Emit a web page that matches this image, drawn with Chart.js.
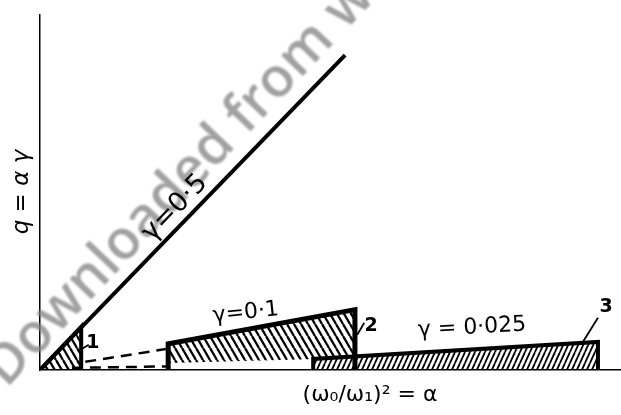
<!DOCTYPE html>
<html>
<head>
<meta charset="utf-8">
<script src="https://cdn.jsdelivr.net/npm/chart.js@4.4.1/dist/chart.umd.min.js"></script>
<style>
    html, body { margin: 0; padding: 0; background: #fff; }
    canvas { display: block; }
</style>
</head>
<body>
<canvas id="regimeChart" width="621" height="415"></canvas>
<script>
// alpha = (w0/w1)^2 on x, q = alpha * gamma on y (arbitrary units 0..10)
const line05Alpha = [0, 5.26];
const line05Q = [0, 8.87];

const region1Alpha = [0, 0.71, 0.71];
const region1Q = [0, 1.22, 0];

const dashUpperAlpha = [0.78, 2.17];
const dashUpperQ = [0.23, 0.59];
const dashLowerAlpha = [0.55, 2.17];
const dashLowerQ = [0.06, 0.10];

const region2TopAlpha = [2.21, 5.43];
const region2TopQ = [0.74, 1.70];
const region2BottomAlpha = [2.21, 5.43];
const region2BottomQ = [0.20, 0.34];
const region2EdgeAlpha = [2.21, 2.21, 5.43, 5.43];
const region2EdgeQ = [0, 0.74, 1.70, 0];

const region3TopAlpha = [4.71, 9.62];
const region3TopQ = [0.31, 0.79];
const region3EdgeAlpha = [4.71, 4.71, 9.62, 9.62];
const region3EdgeQ = [0, 0.31, 0.79, 0];

const leaderAlpha = [[0.72, 0.84], [5.47, 5.59], [9.36, 9.62]];
const leaderQ = [[0.59, 0.71], [0.99, 1.33], [0.79, 1.47]];

const gammaLabels = ["γ=0·5", "γ=0·1", "γ = 0·025"];
const regionLabels = ["1", "2", "3"];
const xTitle = "(ω₀/ω₁)² = α";
const yTitle = "q = α γ";
const stampText = "Downloaded from www";

const zip = (xs, ys) => xs.map((x, i) => ({ x, y: ys[i] }));

const makeHatch = (w, h, lineWidth, backslash) => {
    const tile = document.createElement("canvas");
    tile.width = w;
    tile.height = h;
    const g = tile.getContext("2d");
    g.strokeStyle = "#000";
    g.lineWidth = lineWidth;
    [-w, 0, w].forEach((dx) => {
        g.beginPath();
        if (backslash) {
            g.moveTo(dx, 0);
            g.lineTo(dx + w, h);
        } else {
            g.moveTo(dx, h);
            g.lineTo(dx + w, 0);
        }
        g.stroke();
    });
    return g.createPattern(tile, "repeat");
};

const hatchBack = makeHatch(7, 12, 2.3, true);
const hatchFwd = makeHatch(5, 11, 1.8, false);

const seg = (xs, ys, extra) => ({
    data: zip(xs, ys),
    showLine: true,
    pointRadius: 0,
    borderColor: "#000",
    borderWidth: 4,
    fill: false,
    ...extra,
});

// grey diagonal stamp behind the marks: the "o" of "Down" and the "m" of "from"
// are pinned to fixed canvas points, size and angle follow from those two
const drawStamp = (ctx) => {
    const oAt = { x: 35, y: 337 };
    const mAt = { x: 307, y: 50 };
    const weight = "600";
    const family = "'Open Sans'";

    ctx.save();
    ctx.font = `${weight} 100px ${family}`;
    const w = (s) => ctx.measureText(s).width;
    const span100 = (w("Downloaded fro") + w("m") / 2) - (w("D") + w("o") / 2);
    const target = Math.hypot(mAt.x - oAt.x, mAt.y - oAt.y);
    const size = 100 * target / span100;

    ctx.font = `${weight} ${size}px ${family}`;
    const oOffset = w("D") + w("o") / 2;
    ctx.translate(oAt.x, oAt.y);
    ctx.rotate(Math.atan2(mAt.y - oAt.y, mAt.x - oAt.x));
    ctx.filter = "blur(1.3px)";
    ctx.fillStyle = "rgba(130, 130, 130, 0.75)";
    ctx.textBaseline = "alphabetic";
    ctx.fillText(stampText, -oOffset, size * 0.27);
    ctx.restore();
};

const textPlugin = {
    id: "figureText",
    beforeDatasetsDraw: (chart) => {
        drawStamp(chart.ctx);
    },
    afterDatasetsDraw: (chart) => {
        const { ctx, scales, chartArea } = chart;
        const px = (v) => scales.x.getPixelForValue(v);
        const py = (v) => scales.y.getPixelForValue(v);

        const put = (text, x, y, angle, font) => {
            ctx.save();
            ctx.translate(x, y);
            ctx.rotate(angle);
            ctx.font = font;
            ctx.fillStyle = "#000";
            ctx.textAlign = "center";
            ctx.textBaseline = "middle";
            ctx.fillText(text, 0, 0);
            ctx.restore();
        };

        const slope05 = Math.atan2(
            py(line05Q[1]) - py(line05Q[0]),
            px(line05Alpha[1]) - px(line05Alpha[0]),
        );
        put(gammaLabels[0], px(2.33), py(4.56), slope05, "27px 'DejaVu Sans'");
        put(gammaLabels[1], px(3.55), py(1.61), -6 * Math.PI / 180, "22px 'DejaVu Sans'");
        put(gammaLabels[2], px(7.45), py(1.19), -3 * Math.PI / 180, "22px 'DejaVu Sans'");

        put(regionLabels[0], px(0.91), py(0.76), 0, "bold 19px 'DejaVu Sans'");
        put(regionLabels[1], px(5.71), py(1.25), 0, "bold 19px 'DejaVu Sans'");
        put(regionLabels[2], px(9.76), py(1.76), 0, "bold 19px 'DejaVu Sans'");

        put(xTitle, 370, chartArea.bottom + 25, 0, "22px 'DejaVu Sans'");
        put(yTitle, chartArea.left - 18, 192, -Math.PI / 2, "italic 23px 'DejaVu Sans'");
    },
};

new Chart(document.getElementById("regimeChart"), {
    type: "scatter",
    data: {
        datasets: [
            seg(region1Alpha, region1Q, { fill: "origin", backgroundColor: hatchBack, borderWidth: 4 }),
            seg(line05Alpha, line05Q, { borderWidth: 4 }),
            seg(dashUpperAlpha, dashUpperQ, { borderWidth: 2.5, borderDash: [11, 7] }),
            seg(dashLowerAlpha, dashLowerQ, { borderWidth: 2.5, borderDash: [11, 7] }),
            seg(region2TopAlpha, region2TopQ, { fill: "+1", backgroundColor: hatchBack, borderWidth: 0 }),
            seg(region2BottomAlpha, region2BottomQ, { borderWidth: 0 }),
            seg(region3TopAlpha, region3TopQ, { fill: "origin", backgroundColor: hatchFwd, borderWidth: 0 }),
            seg(region2EdgeAlpha, region2EdgeQ, { borderWidth: 5 }),
            seg(region3EdgeAlpha, region3EdgeQ, { borderWidth: 4 }),
            ...leaderAlpha.map((xs, i) => seg(xs, leaderQ[i], { borderWidth: 1.8 })),
        ],
    },
    options: {
        responsive: false,
        animation: false,
        layout: {
            padding: { left: 32, right: 1, top: 15, bottom: 37 },
        },
        plugins: {
            legend: { display: false },
            tooltip: { enabled: false },
        },
        scales: {
            x: {
                type: "linear",
                min: 0,
                max: 10,
                ticks: { display: false },
                grid: { display: false },
                border: { display: true, color: "#000", width: 1.5 },
            },
            y: {
                type: "linear",
                min: 0,
                max: 10,
                ticks: { display: false },
                grid: { display: false },
                border: { display: true, color: "#000", width: 1.5 },
            },
        },
    },
    plugins: [textPlugin],
});
</script>
</body>
</html>
